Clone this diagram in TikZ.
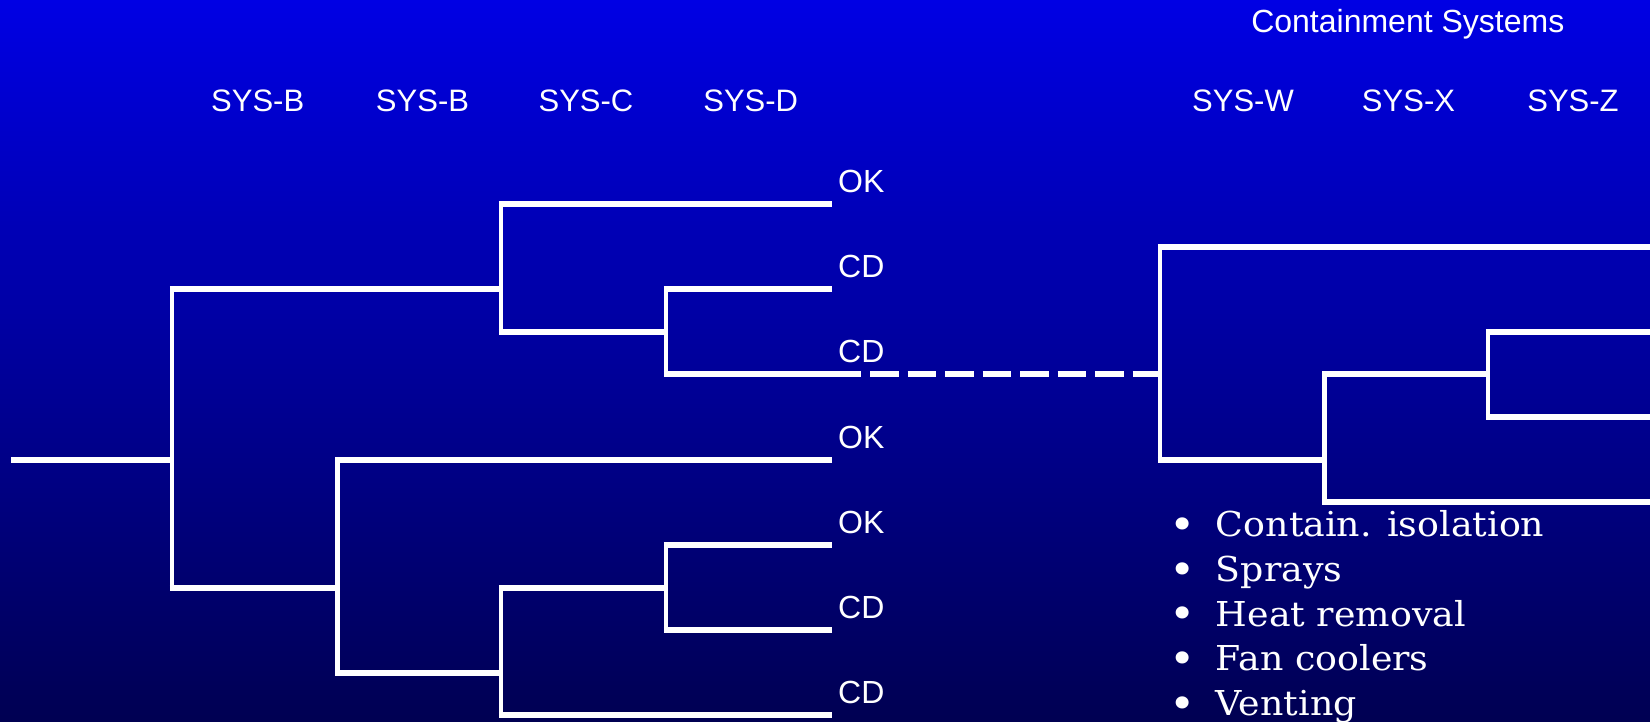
\documentclass[tikz,border=0pt]{standalone}
\usepackage{fontspec}
\setmainfont{Liberation Sans}
\newfontfamily\listfont[FakeStretch=1.06]{DejaVu Serif}
\definecolor{bgtop}{RGB}{0,0,228}
\definecolor{bgbot}{RGB}{0,0,82}
\begin{document}
\begin{tikzpicture}[x=1pt,y=-1pt,
  hl/.style={white,line width=6.3pt,shorten <=-2.25pt},
  dl/.style={white,line width=6.3pt,dash pattern=on 28.7pt off 8.8pt},
  vl/.style={white,line width=4.5pt},
  lbl/.style={text=white,inner sep=0pt,anchor=base west,font=\fontsize{32}{38}\selectfont},
  hdr/.style={text=white,inner sep=0pt,anchor=base,font=\fontsize{31}{37}\selectfont},
  itm/.style={text=white,inner sep=0pt,anchor=base west,font=\listfont\fontsize{34.3}{40}\selectfont},
  bul/.style={text=white,inner sep=0pt,anchor=base,font=\listfont\fontsize{42}{48}\selectfont}]
\shade[top color=bgtop,bottom color=bgbot] (0,0) rectangle (1650,722);
\useasboundingbox (0,0) rectangle (1650,722);

% headers
\node[hdr,font=\fontsize{32}{38}\selectfont] (cs) at (1407.8,32.3) {Containment Systems};
\node[hdr] (hB1) at (257.7,111.7) {SYS-B};
\node[hdr] (hB2) at (422.5,111.7) {SYS-B};
\node[hdr] (hC) at (586,111.7) {SYS-C};
\node[hdr] (hD) at (750.7,111.7) {SYS-D};
\node[hdr] (hW) at (1243,111.7) {SYS-W};
\node[hdr] (hX) at (1408.5,111.7) {SYS-X};
\node[hdr] (hZ) at (1573,111.7) {SYS-Z};

% left tree coordinates
\coordinate (root) at (11.25,460.3);
\coordinate (a) at (172,460.3);
\coordinate (at) at (172,289.3);
\coordinate (ab) at (172,588.3);
\coordinate (bu) at (501,289.3);
\coordinate (but) at (501,204.3);
\coordinate (bub) at (501,332.3);
\coordinate (cu) at (666,332.3);
\coordinate (cut) at (666,289.3);
\coordinate (cub) at (666,374.3);
\coordinate (bd) at (337.5,588.3);
\coordinate (bdt) at (337.5,460.3);
\coordinate (bdb) at (337.5,673.3);
\coordinate (cd) at (501,673.3);
\coordinate (cdt) at (501,588.3);
\coordinate (cdb) at (501,715);
\coordinate (dd) at (666,588.3);
\coordinate (ddt) at (666,545.3);
\coordinate (ddb) at (666,630.3);
\coordinate (e1) at (832,204.3);
\coordinate (e2) at (832,289.3);
\coordinate (e3) at (860.7,374.3);
\coordinate (e4) at (832,460.3);
\coordinate (e5) at (832,545.3);
\coordinate (e6) at (832,630.3);
\coordinate (e7) at (832,715);
\coordinate (ds) at (870,374.3);

% right tree coordinates
\coordinate (w) at (1160,374.3);
\coordinate (wt) at (1160,246.7);
\coordinate (wb) at (1160,460.3);
\coordinate (x) at (1324.5,460.3);
\coordinate (xt) at (1324.5,374.3);
\coordinate (xb) at (1324.5,502.3);
\coordinate (z) at (1488,374.3);
\coordinate (zt) at (1488,332.3);
\coordinate (zb) at (1488,417.3);
\coordinate (r1) at (1650,246.7);
\coordinate (r2) at (1650,332.3);
\coordinate (r3) at (1650,417.3);
\coordinate (r4) at (1650,502.3);

% vertical lines
\draw[vl] (at) -- (ab);
\draw[vl] (but) -- (bub);
\draw[vl] (cut) -- (cub);
\draw[vl] (bdt) -- (bdb);
\draw[vl] (cdt) -- (cdb);
\draw[vl] (ddt) -- (ddb);
\draw[vl] (wt) -- (wb);
\draw[vl] (xt) -- (xb);
\draw[vl] (zt) -- (zb);

% horizontal lines
\draw[white,line width=6.3pt] (root) -- (a);
\draw[hl] (at) -- (bu);
\draw[hl] (but) -- (e1);
\draw[hl] (bub) -- (cu);
\draw[hl] (cut) -- (e2);
\draw[hl] (cub) -- (e3);
\draw[dl] (ds) -- (w);
\draw[hl] (ab) -- (bd);
\draw[hl] (bdt) -- (e4);
\draw[hl] (bdb) -- (cd);
\draw[hl] (cdt) -- (dd);
\draw[hl] (ddt) -- (e5);
\draw[hl] (ddb) -- (e6);
\draw[hl] (cdb) -- (e7);
\draw[hl] (wt) -- (r1);
\draw[hl] (wb) -- (x);
\draw[hl] (xt) -- (z);
\draw[hl] (zt) -- (r2);
\draw[hl] (zb) -- (r3);
\draw[hl] (xb) -- (r4);

% outcome labels
\node[lbl] (o1) at (838,192.3) {OK};
\node[lbl] (o2) at (838,277.3) {CD};
\node[lbl] (o3) at (838,362.3) {CD};
\node[lbl] (o4) at (838,448.3) {OK};
\node[lbl] (o5) at (838,533.3) {OK};
\node[lbl] (o6) at (838,618.3) {CD};
\node[lbl] (o7) at (838,703) {CD};

% bullet list
\node[bul] (b1) at (1182.5,539.5) {•};
\node[bul] (b2) at (1182.5,584.1) {•};
\node[bul] (b3) at (1182.5,628.8) {•};
\node[bul] (b4) at (1182.5,673.4) {•};
\node[bul] (b5) at (1182.5,718) {•};
\node[itm] (t1) at (1215.7,536.7) {Contain. isolation};
\node[itm] (t2) at (1215.7,581.3) {Sprays};
\node[itm] (t3) at (1215.7,626) {Heat removal};
\node[itm] (t4) at (1215.7,670.6) {Fan coolers};
\node[itm] (t5) at (1215.7,715.2) {Venting};
\end{tikzpicture}
\end{document}
